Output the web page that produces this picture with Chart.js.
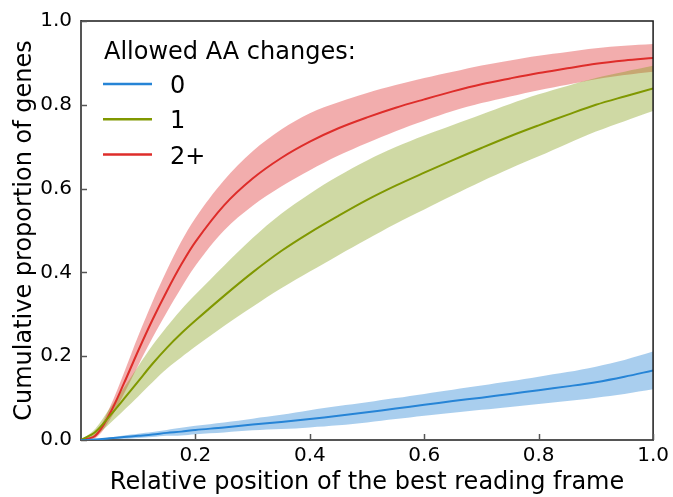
<!DOCTYPE html>
<html>
<head>
<meta charset="utf-8">
<script src="https://cdn.jsdelivr.net/npm/chart.js@4.4.1/dist/chart.umd.min.js"></script>
<style>
  body { margin: 0; background: #fff; }
  #wrap { width: 673px; height: 497px; }
</style>
</head>
<body>
<div id="wrap"><canvas id="genes" width="673" height="497"></canvas></div>
<script>
// relative position of the best reading frame
var positions = [0, 0.025, 0.05, 0.075, 0.1, 0.125, 0.15, 0.175, 0.2, 0.25, 0.3, 0.35, 0.4,
                 0.45, 0.5, 0.55, 0.6, 0.65, 0.7, 0.75, 0.8, 0.85, 0.9, 0.95, 1.0];

// cumulative proportion of genes, 0 allowed changes
var zeroMean  = [0, 0.001, 0.004, 0.007, 0.010, 0.013, 0.017, 0.020, 0.024, 0.030, 0.037, 0.043, 0.050,
                 0.058, 0.066, 0.075, 0.084, 0.093, 0.101, 0.110, 0.119, 0.128, 0.138, 0.151, 0.166];
var zeroUpper = [0, 0.002, 0.006, 0.011, 0.015, 0.019, 0.024, 0.029, 0.034, 0.042, 0.051, 0.060, 0.071,
                 0.081, 0.090, 0.100, 0.110, 0.120, 0.130, 0.140, 0.151, 0.162, 0.175, 0.191, 0.211];
var zeroLower = [0, 0.000, 0.002, 0.003, 0.005, 0.007, 0.010, 0.011, 0.014, 0.018, 0.023, 0.026, 0.030,
                 0.035, 0.042, 0.050, 0.058, 0.065, 0.072, 0.079, 0.086, 0.093, 0.101, 0.110, 0.121];

// 1 allowed change
var oneMean  = [0, 0.019, 0.057, 0.098, 0.140, 0.182, 0.220, 0.254, 0.285, 0.344, 0.400, 0.451, 0.495,
                0.535, 0.573, 0.607, 0.638, 0.668, 0.697, 0.725, 0.751, 0.776, 0.800, 0.820, 0.839];
var oneUpper = [0, 0.027, 0.075, 0.125, 0.176, 0.226, 0.270, 0.311, 0.347, 0.416, 0.482, 0.540, 0.588,
                0.630, 0.667, 0.699, 0.727, 0.752, 0.777, 0.802, 0.825, 0.845, 0.864, 0.879, 0.893];
var oneLower = [0, 0.011, 0.039, 0.071, 0.104, 0.138, 0.170, 0.197, 0.223, 0.272, 0.318, 0.362, 0.402,
                0.441, 0.479, 0.516, 0.550, 0.584, 0.617, 0.648, 0.677, 0.707, 0.736, 0.761, 0.785];

// 2+ allowed changes
var twoMean  = [0, 0.010, 0.062, 0.135, 0.213, 0.287, 0.355, 0.418, 0.473, 0.560, 0.624, 0.673, 0.712,
                0.744, 0.770, 0.793, 0.813, 0.832, 0.849, 0.863, 0.876, 0.887, 0.898, 0.906, 0.912];
var twoUpper = [0, 0.016, 0.077, 0.160, 0.248, 0.330, 0.405, 0.473, 0.530, 0.620, 0.689, 0.741, 0.780,
                0.806, 0.828, 0.847, 0.864, 0.879, 0.894, 0.906, 0.917, 0.926, 0.935, 0.941, 0.945];
var twoLower = [0, 0.004, 0.047, 0.110, 0.178, 0.244, 0.305, 0.363, 0.416, 0.500, 0.559, 0.605, 0.644,
                0.679, 0.709, 0.737, 0.762, 0.785, 0.804, 0.820, 0.835, 0.848, 0.861, 0.871, 0.879];

var legendLabels = ['0', '1', '2+'];
var xTicks = [0.2, 0.4, 0.6, 0.8, 1.0];

var font = 'DejaVu Sans';

function pts(ys) {
    return positions.map(function (x, i) { return {x: x, y: ys[i]}; });
}

function band(upper, lower, fillColor) {
    return [{
        data: pts(upper),
        borderWidth: 0,
        pointRadius: 0,
        backgroundColor: fillColor,
        fill: '+1',
        tension: 0.35,
        order: 2
    }, {
        data: pts(lower),
        borderWidth: 0,
        pointRadius: 0,
        fill: false,
        tension: 0.35,
        order: 2
    }];
}

function line(ys, color, label) {
    return {
        label: label,
        data: pts(ys),
        borderColor: color,
        borderWidth: 2,
        pointRadius: 0,
        fill: false,
        tension: 0.35,
        order: 0
    };
}

var blue = 'rgb(38, 132, 214)';
var green = 'rgb(128, 152, 0)';
var red = 'rgb(222, 45, 42)';

var datasets = []
    .concat(band(zeroUpper, zeroLower, 'rgba(40, 132, 212, 0.40)'))
    .concat(band(oneUpper, oneLower, 'rgba(132, 156, 20, 0.39)'))
    .concat(band(twoUpper, twoLower, 'rgba(222, 40, 40, 0.38)'))
    .concat([line(zeroMean, blue, legendLabels[0]),
             line(oneMean, green, legendLabels[1]),
             line(twoMean, red, legendLabels[2])]);

// inward ticks, top/right spines and the legend
var frame = {
    id: 'frame',
    afterDraw: function (chart) {
        var ctx = chart.ctx;
        var a = chart.chartArea;
        ctx.save();
        ctx.strokeStyle = '#1a1a1a';
        ctx.lineWidth = 1.5;
        ctx.beginPath();
        ctx.moveTo(a.left, a.top);
        ctx.lineTo(a.right, a.top);
        ctx.lineTo(a.right, a.bottom);
        ctx.stroke();

        ctx.strokeStyle = '#555';
        ctx.lineWidth = 1.5;
        chart.scales.x.ticks.forEach(function (t) {
            var px = Math.round(chart.scales.x.getPixelForValue(t.value)) + 0.5;
            ctx.beginPath();
            ctx.moveTo(px, a.bottom);
            ctx.lineTo(px, a.bottom - 6);
            ctx.stroke();
        });
        chart.scales.y.ticks.forEach(function (t) {
            var py = Math.round(chart.scales.y.getPixelForValue(t.value)) + 0.5;
            ctx.beginPath();
            ctx.moveTo(a.left, py);
            ctx.lineTo(a.left + 6, py);
            ctx.stroke();
        });

        // legend
        ctx.fillStyle = '#000';
        ctx.font = '24px "' + font + '"';
        ctx.textBaseline = 'alphabetic';
        ctx.textAlign = 'left';
        ctx.fillText('Allowed AA changes:', 104, 59);
        var colors = [blue, green, red];
        for (var i = 0; i < legendLabels.length; i++) {
            var y = 84 + i * 35.3;
            ctx.strokeStyle = colors[i];
            ctx.lineWidth = 2.5;
            ctx.beginPath();
            ctx.moveTo(103, y);
            ctx.lineTo(152, y);
            ctx.stroke();
            ctx.fillText(legendLabels[i], 170, y + 9);
        }
        ctx.restore();
    }
};

var chart = new Chart(document.getElementById('genes'), {
    type: 'line',
    data: { datasets: datasets },
    options: {
        responsive: false,
        animation: false,
        devicePixelRatio: 1,
        layout: { padding: { left: 0, top: 18, right: 18, bottom: 0 } },
        plugins: {
            legend: { display: false },
            tooltip: { enabled: false }
        },
        scales: {
            x: {
                type: 'linear',
                min: 0,
                max: 1,
                afterBuildTicks: function (scale) {
                    scale.ticks = xTicks.map(function (v) { return {value: v}; });
                },
                afterFit: function (scale) { scale.height = 57; },
                grid: { display: false, drawTicks: false },
                border: { color: '#555', width: 2 },
                ticks: {
                    padding: 4,
                    color: '#000',
                    font: { family: font, size: 20 },
                    maxRotation: 0,
                    callback: function (v) { return v.toFixed(1); }
                },
                title: {
                    display: true,
                    text: 'Relative position of the best reading frame',
                    color: '#000',
                    font: { family: font, size: 24 },
                    padding: { top: 0, bottom: 0 }
                }
            },
            y: {
                min: 0,
                max: 1,
                afterFit: function (scale) { scale.width = 81; },
                grid: { display: false, drawTicks: false },
                border: { color: '#555', width: 2 },
                ticks: {
                    stepSize: 0.2,
                    padding: 9,
                    color: '#000',
                    font: { family: font, size: 20 },
                    callback: function (v) { return v.toFixed(1); }
                },
                title: {
                    display: true,
                    text: 'Cumulative proportion of genes',
                    color: '#000',
                    font: { family: font, size: 24 },
                    padding: { top: 10, bottom: 0 }
                }
            }
        }
    },
    plugins: [frame]
});
</script>
</body>
</html>
